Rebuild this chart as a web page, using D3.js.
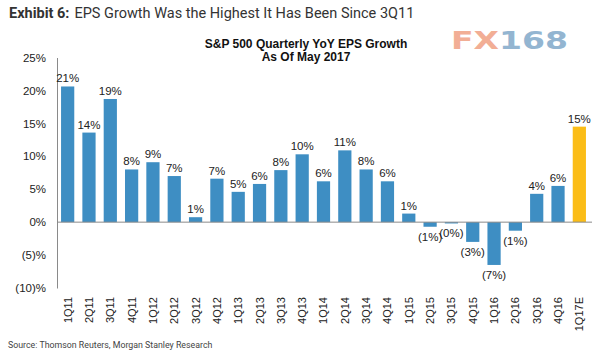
<!DOCTYPE html>
<html>
<head>
<meta charset="utf-8">
<script src="https://cdnjs.cloudflare.com/ajax/libs/d3/7.8.5/d3.min.js"></script>
<style>
  body { margin: 0; background: #fff; }
  svg { display: block; }
</style>
</head>
<body>
<div id="chart"></div>
<script>
// quarters on the x axis
const quarters = ["1Q11", "2Q11", "3Q11", "4Q11", "1Q12", "2Q12", "3Q12", "4Q12",
  "1Q13", "2Q13", "3Q13", "4Q13", "1Q14", "2Q14", "3Q14", "4Q14",
  "1Q15", "2Q15", "3Q15", "4Q15", "1Q16", "2Q16", "3Q16", "4Q16", "1Q17E"];

// YoY EPS growth in %
const epsGrowth = [20.6, 13.6, 18.7, 8.0, 9.1, 7.0, 0.75, 6.6,
  4.6, 5.8, 7.9, 10.3, 6.2, 10.9, 8.0, 6.2,
  1.3, -0.7, -0.2, -3.0, -6.5, -1.3, 4.3, 5.5, 14.5];

const estimateQuarter = "1Q17E";
const yTicks = [25, 20, 15, 10, 5, 0, -5, -10];

const width = 600, height = 353;
const svg = d3.select("#chart").append("svg")
  .attr("width", width)
  .attr("height", height);

const sans = "'Liberation Sans', Arial, sans-serif";

// header
const header = svg.append("text")
  .attr("x", 9)
  .attr("y", 18)
  .attr("font-family", "Roboto, sans-serif")
  .attr("font-size", 14.5)
  .attr("fill", "#333");
header.append("tspan").attr("font-weight", "bold").text("Exhibit 6:");
header.append("tspan").attr("dx", 5).text("EPS Growth Was the Highest It Has Been Since 3Q11");

// watermark
const wm = svg.append("text")
  .attr("x", 451)
  .attr("y", 49)
  .attr("font-family", "'DejaVu Sans', sans-serif")
  .attr("font-weight", "bold")
  .attr("font-size", 25)
  .attr("textLength", 117)
  .attr("lengthAdjust", "spacingAndGlyphs");
wm.append("tspan").attr("fill", "#f2ae95").text("FX");
wm.append("tspan").attr("fill", "#93b5d1").text("168");

// chart title
const title = svg.append("g")
  .attr("font-family", sans)
  .attr("font-weight", "bold")
  .attr("font-size", 12)
  .attr("fill", "#111")
  .attr("text-anchor", "middle");
title.append("text").attr("x", 306).attr("y", 48).text("S&P 500 Quarterly YoY EPS Growth");
title.append("text").attr("x", 306).attr("y", 61).text("As Of May 2017");

// scales
const x = d3.scaleBand()
  .domain(quarters)
  .range([57, 590])
  .paddingInner(0.38)
  .paddingOuter(0.19);

const y = d3.scaleLinear()
  .domain([-10, 25])
  .range([288, 57.5]);

const fmtTick = v => v < 0 ? `(${-v})%` : `${v}%`;
const fmtLabel = v => {
  const r = Math.round(Math.abs(v));
  return v < 0 ? `(${r}%)` : `${r}%`;
};

// y axis
const yAxis = svg.append("g")
  .attr("transform", "translate(57,0)")
  .call(d3.axisLeft(y).tickValues(yTicks).tickSize(0).tickPadding(11).tickFormat(fmtTick));
yAxis.select(".domain").attr("stroke", "#8a8a8a").attr("stroke-width", 1);
yAxis.selectAll("text")
  .attr("font-family", sans)
  .attr("font-size", 11.5)
  .attr("fill", "#222");

const data = quarters.map((q, i) => ({ q, v: epsGrowth[i] }));

// bars
svg.append("g").selectAll("rect")
  .data(data)
  .enter().append("rect")
  .attr("x", d => x(d.q))
  .attr("y", d => y(Math.max(0, d.v)))
  .attr("width", x.bandwidth())
  .attr("height", d => Math.abs(y(d.v) - y(0)))
  .attr("fill", d => d.q === estimateQuarter ? "#fbbd17" : "#3e8ec3");

// zero line
svg.append("line")
  .attr("x1", 57)
  .attr("x2", 592)
  .attr("y1", y(0))
  .attr("y2", y(0))
  .attr("stroke", "#8a8a8a")
  .attr("stroke-width", 1);

// value labels
svg.append("g").selectAll("text")
  .data(data)
  .enter().append("text")
  .attr("x", d => x(d.q) + x.bandwidth() / 2)
  .attr("y", d => d.v >= 0 ? y(d.v) - 4 : y(d.v) + 14)
  .attr("text-anchor", "middle")
  .attr("font-family", sans)
  .attr("font-size", 11.5)
  .attr("fill", "#222")
  .text(d => fmtLabel(d.v));

// x labels, rotated
svg.append("g").selectAll("text")
  .data(quarters)
  .enter().append("text")
  .attr("transform", d => `translate(${x(d) + x.bandwidth() / 2},297) rotate(-90)`)
  .attr("dy", "0.36em")
  .attr("text-anchor", "end")
  .attr("font-family", sans)
  .attr("font-size", 11)
  .attr("fill", "#222")
  .text(d => d);

// source
svg.append("text")
  .attr("x", 8)
  .attr("y", 348)
  .attr("font-family", "Roboto, sans-serif")
  .attr("font-size", 8.8)
  .attr("fill", "#444")
  .text("Source: Thomson Reuters, Morgan Stanley Research");
</script>
</body>
</html>
